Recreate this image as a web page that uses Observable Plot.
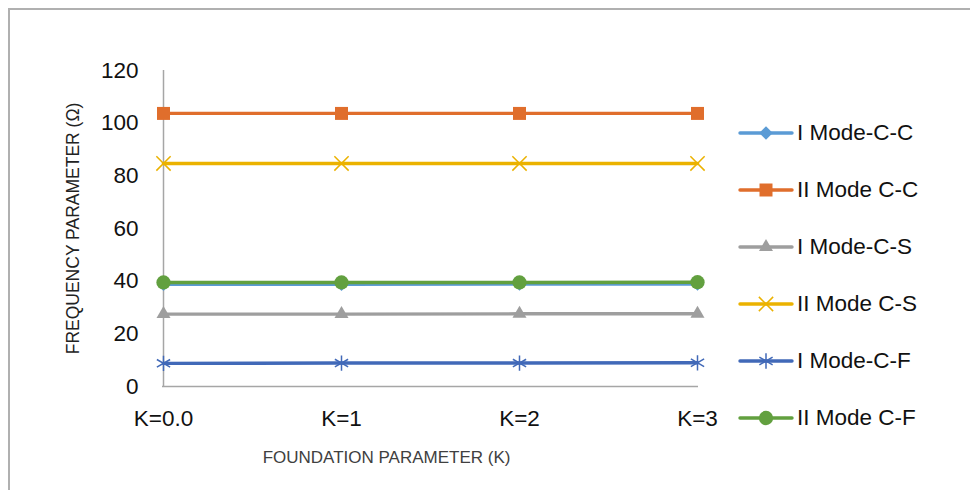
<!DOCTYPE html>
<html>
<head>
<meta charset="utf-8">
<script src="https://cdn.jsdelivr.net/npm/d3@7"></script>
<script src="https://cdn.jsdelivr.net/npm/@observablehq/plot@0.6"></script>
<style>
  html, body { margin: 0; padding: 0; background: #fff; }
  #chart { position: relative; width: 970px; height: 490px; overflow: hidden; font-family: "Liberation Sans", Arial, sans-serif; }
  #frame { position: absolute; left: 8px; top: 8px; width: 1000px; height: 600px; border: 2px solid #b0b0b0; box-sizing: border-box; }
  #legend { position: absolute; left: 738px; top: 104px; }
  .item { display: flex; align-items: center; height: 57px; }
  .item span { font-size: 22.5px; color: #111; margin-left: 3px; white-space: nowrap; font-family: "Liberation Sans", Arial, sans-serif; }
</style>
</head>
<body>
<div id="chart"><div id="frame"></div></div>
<script>
// Foundation parameter levels (x categories)
const kLevels = ["K=0.0", "K=1", "K=2", "K=3"];

// Frequency parameter per mode and boundary condition
const iModeCC  = [38.8, 38.8, 38.9, 38.9];
const iiModeCC = [103.7, 103.7, 103.7, 103.7];
const iModeCS  = [27.5, 27.5, 27.6, 27.6];
const iiModeCS = [84.7, 84.7, 84.7, 84.7];
const iModeCF  = [8.8, 8.9, 8.9, 9.0];
const iiModeCF = [39.5, 39.5, 39.5, 39.6];

const seriesNames = ["I Mode-C-C", "II Mode C-C", "I Mode-C-S", "II Mode C-S", "I Mode-C-F", "II Mode C-F"];
const seriesValues = [iModeCC, iiModeCC, iModeCS, iiModeCS, iModeCF, iiModeCF];
const seriesColors = ["#5B9BD5", "#E06E2C", "#9E9E9E", "#EBB200", "#4169B8", "#62A03F"];
const seriesSymbols = ["diamond2", "square2", "triangle2", "times", "asterisk", "circle"];
const symbolFilled = [true, true, true, false, false, true];
const symbolSizes = [115, 215, 140, 135, 165, 160];

const yTicks = [0, 20, 40, 60, 80, 100, 120];

const rows = seriesNames.flatMap((name, i) =>
  kLevels.map((k, j) => ({ series: name, idx: i, k, value: seriesValues[i][j] }))
);

const FONT = "Liberation Sans, Arial, sans-serif";

const marks = [
  Plot.ruleX([kLevels[0]], { stroke: "#a6a6a6", strokeWidth: 1.5 }),
  Plot.ruleY([0], { stroke: "#a6a6a6", strokeWidth: 1.5 }),
];
seriesNames.forEach((name, i) => {
  const d = rows.filter(r => r.idx === i);
  marks.push(Plot.line(d, { x: "k", y: "value", stroke: seriesColors[i], strokeWidth: 3.4, strokeLinecap: "round" }));
  marks.push(Plot.dot(d, {
    x: "k", y: "value", symbol: () => seriesSymbols[i], r: Math.sqrt(symbolSizes[i] / Math.PI),
    fill: symbolFilled[i] ? seriesColors[i] : "none",
    stroke: seriesColors[i], strokeWidth: symbolFilled[i] ? 0 : 1.5
  }));
});
marks.push(Plot.text(["FOUNDATION PARAMETER (K)"], {
  frameAnchor: "bottom", dx: -44, dy: 76, text: d => d,
  fontSize: 17, fill: "#404040", fontFamily: FONT
}));

const plot = Plot.plot({
  width: 970,
  height: 490,
  marginLeft: 162,
  marginRight: 272,
  marginTop: 70,
  marginBottom: 104,
  style: { background: "transparent", overflow: "visible", fontFamily: FONT },
  x: { type: "point", domain: kLevels, padding: 0 },
  y: { domain: [0, 120] },
  marks: [
    Plot.axisX({ tickSize: 0, tickPadding: 24, fontSize: 22.5, label: null, fill: "#111", fontFamily: FONT }),
    Plot.axisY({ ticks: yTicks, tickSize: 0, tickPadding: 24, fontSize: 22.5, label: null, fill: "#111", fontFamily: FONT }),
    Plot.axisY({ ticks: [], label: "FREQUENCY PARAMETER (Ω)", labelAnchor: "center", labelOffset: 96, labelArrow: "none", fontSize: 17.5, fill: "#222", fontFamily: FONT }),
    ...marks
  ]
});
plot.style.position = "absolute";
plot.style.left = "0px";
plot.style.top = "0px";
document.getElementById("chart").appendChild(plot);

// Legend: a line with the series marker, then its name
const legend = document.createElement("div");
legend.id = "legend";
seriesNames.forEach((name, i) => {
  const item = document.createElement("div");
  item.className = "item";
  const svg = d3.create("svg").attr("width", 56).attr("height", 20);
  svg.append("line").attr("x1", 2).attr("x2", 54).attr("y1", 10).attr("y2", 10)
    .attr("stroke", seriesColors[i]).attr("stroke-width", 3.4).attr("stroke-linecap", "round");
  const sym = { diamond2: d3.symbolDiamond2, square2: d3.symbolSquare2, triangle2: d3.symbolTriangle2,
                times: d3.symbolTimes, asterisk: d3.symbolAsterisk, circle: d3.symbolCircle }[seriesSymbols[i]];
  svg.append("path").attr("transform", "translate(28,10)")
    .attr("d", d3.symbol(sym, symbolSizes[i])())
    .attr("fill", symbolFilled[i] ? seriesColors[i] : "none")
    .attr("stroke", symbolFilled[i] ? "none" : seriesColors[i])
    .attr("stroke-width", 1.5);
  item.appendChild(svg.node());
  const label = document.createElement("span");
  label.textContent = name;
  item.appendChild(label);
  legend.appendChild(item);
});
document.getElementById("chart").appendChild(legend);
</script>
</body>
</html>
